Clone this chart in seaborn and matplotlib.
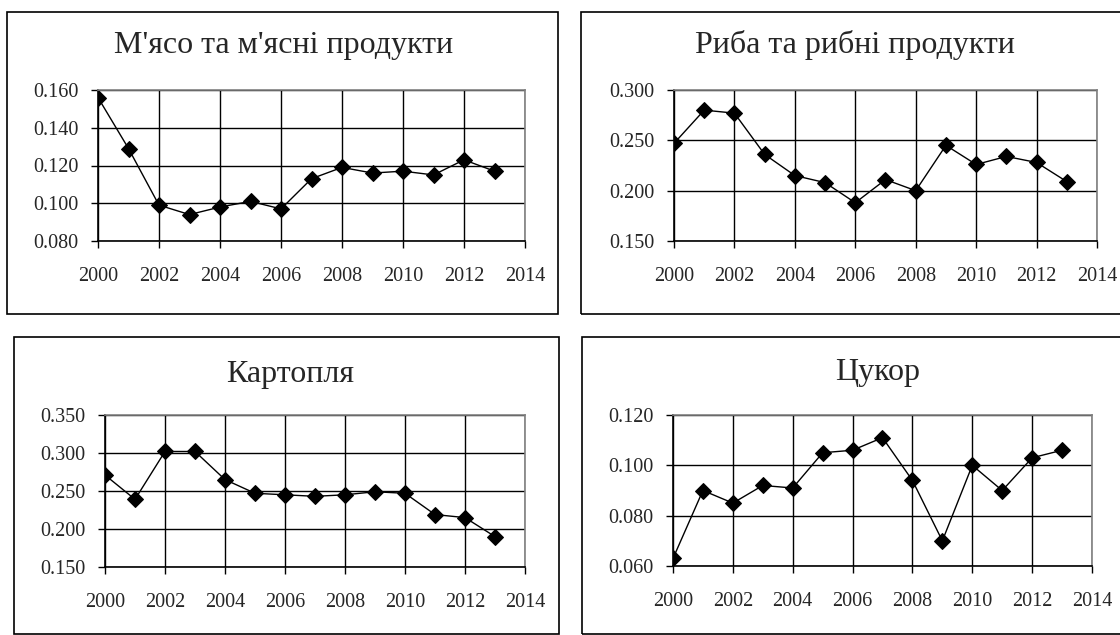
import numpy as np
import pandas as pd
import matplotlib.pyplot as plt
import seaborn as sns
from matplotlib.patches import Rectangle

years = list(range(2000, 2014))

meat = [0.156, 0.129, 0.099, 0.094, 0.098, 0.101, 0.097, 0.113, 0.119, 0.116, 0.117, 0.115, 0.123, 0.117]
fish = [0.247, 0.280, 0.277, 0.236, 0.215, 0.208, 0.188, 0.211, 0.200, 0.245, 0.226, 0.234, 0.228, 0.209]
potato = [0.271, 0.239, 0.302, 0.302, 0.265, 0.247, 0.245, 0.243, 0.245, 0.249, 0.247, 0.219, 0.215, 0.190]
sugar = [0.063, 0.090, 0.085, 0.092, 0.091, 0.105, 0.106, 0.111, 0.094, 0.070, 0.100, 0.090, 0.103, 0.106]

titles = ["М'ясо та м'ясні продукти", "Риба та рибні продукти", "Картопля", "Цукор"]
series = [meat, fish, potato, sugar]
y_ranges = [(0.080, 0.160, 0.020), (0.150, 0.300, 0.050), (0.150, 0.350, 0.050), (0.060, 0.120, 0.020)]
x_ticks = list(range(2000, 2016, 2))

sns.set_style("white")
plt.rcParams['font.family'] = ['Liberation Serif', 'DejaVu Serif']

fig = plt.figure(figsize=(11.2, 6.35), dpi=100)

# рамки навколо кожної діаграми (x0, y0, x1, y1 у пікселях)
frames = [(7, 12, 558, 314), (581, 12, 1125, 314), (14, 337, 559, 634), (582, 337, 1125, 634)]
# області побудови (x0, y0, x1, y1 у пікселях)
areas = [(98, 90, 525, 241), (674, 90, 1097, 241), (105, 415, 525, 567), (673, 415, 1092, 566)]
title_pos = [(284, 45), (855, 45), (290, 375), (878, 372)]

W, H = 1120, 635
for i in range(4):
    fx0, fy0, fx1, fy1 = frames[i]
    fig.add_artist(Rectangle((fx0 / W, 1 - fy1 / H), (fx1 - fx0) / W, (fy1 - fy0) / H,
                             transform=fig.transFigure, fill=False, edgecolor='black', linewidth=1.2))
    ax0, ay0, ax1, ay1 = areas[i]
    ax = fig.add_axes([ax0 / W, 1 - ay1 / H, (ax1 - ax0) / W, (ay1 - ay0) / H])
    df = pd.DataFrame({"year": years, "value": series[i]})
    sns.lineplot(data=df, x="year", y="value", ax=ax, color='black', marker='D',
                 markersize=8, markeredgecolor='black', linewidth=1)
    lo, hi, st = y_ranges[i]
    ax.set_xlim(2000, 2014)
    ax.set_ylim(lo, hi)
    ax.set_xticks(x_ticks)
    ax.set_yticks(np.arange(lo, hi + st / 2, st))
    ax.yaxis.set_major_formatter(plt.FuncFormatter(lambda v, p: f"{v:.3f}"))
    ax.grid(True, color='black', linewidth=1)
    ax.set_axisbelow(True)
    ax.set_xlabel("")
    ax.set_ylabel("")
    for s in ['top', 'right']:
        ax.spines[s].set_color('#808080')
        ax.spines[s].set_linewidth(1.2)
    for s in ['left', 'bottom']:
        ax.spines[s].set_color('black')
        ax.spines[s].set_linewidth(1.2)
    ax.tick_params(axis='both', direction='out', length=5, width=1, color='black',
                   labelsize=14.5, bottom=True, left=True)
    ax.tick_params(axis='x', pad=14)
    ax.tick_params(axis='y', pad=9)
    tx, ty = title_pos[i]
    fig.text(tx / W, 1 - ty / H, titles[i], ha='center', va='center', fontsize=23)

fig.savefig("out.png", dpi=100)
